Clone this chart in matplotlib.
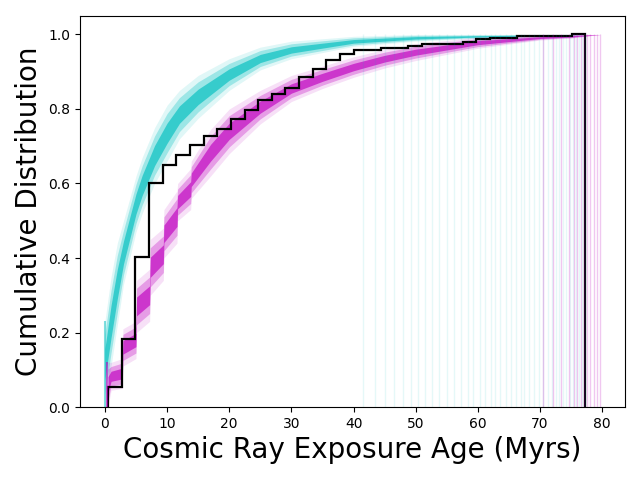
import numpy as np
import matplotlib
matplotlib.use('Agg')
import matplotlib.pyplot as plt

# Observed sample: cumulative fraction per histogram bin (35 bins)
obs_min, obs_max = 0.53, 77.3
obs_cdf = [0.054, 0.182, 0.403, 0.602, 0.649, 0.676, 0.702, 0.727, 0.745, 0.772,
           0.798, 0.823, 0.839, 0.856, 0.887, 0.906, 0.932, 0.948, 0.959, 0.959,
           0.963, 0.963, 0.969, 0.975, 0.975, 0.975, 0.981, 0.987, 0.991, 0.991,
           0.995, 0.997, 0.997, 0.997, 1.0]

# Model 1 (cyan) envelope of simulated CDFs
cyan_x = [0.0, 1, 2, 3, 4, 5, 6, 8, 10, 12, 15, 20, 25, 30, 40, 50, 60, 70, 77]
cyan_hi = [0.23, 0.35, 0.44, 0.50, 0.56, 0.62, 0.67, 0.75, 0.81, 0.85, 0.89, 0.935,
           0.966, 0.982, 0.995, 1.0, 1.0, 1.0, 1.0]
cyan_lo = [0.0, 0.11, 0.22, 0.33, 0.40, 0.47, 0.52, 0.60, 0.66, 0.72, 0.775, 0.85,
           0.905, 0.935, 0.968, 0.982, 0.99, 0.995, 1.0]

# Model 2 (magenta) envelope of simulated CDFs (saw-tooth at the bin edges)
mag_x = [0.5, 1.0, 2.8, 2.9, 5.0, 5.1, 7.2, 7.3, 9.4, 9.5, 11.6, 11.7, 13.8, 13.9,
         17, 20, 25, 30, 35, 40, 45, 50, 60, 70, 75, 79.7]
mag_hi = [0.12, 0.12, 0.13, 0.21, 0.23, 0.34, 0.37, 0.45, 0.48, 0.53, 0.58, 0.60,
          0.64, 0.66, 0.745, 0.80, 0.85, 0.89, 0.915, 0.94, 0.96, 0.975, 0.993,
          0.998, 1.0, 1.0]
mag_lo = [0.0, 0.045, 0.05, 0.11, 0.13, 0.20, 0.23, 0.30, 0.34, 0.40, 0.44, 0.50,
          0.53, 0.56, 0.62, 0.68, 0.76, 0.82, 0.855, 0.885, 0.91, 0.93, 0.963,
          0.985, 0.99, 1.0]

# maximum ages of the individual simulated draws (final drop of each CDF)
cyan_max = [41.5, 43.5, 45.0, 46.5, 48.0, 49.2, 50.3, 51.5, 52.6, 53.8, 55.0, 56.1,
            57.3, 58.4, 59.2, 60.3, 61.2, 62.1, 62.8, 63.6, 64.5, 65.3, 66.2, 67.0,
            67.4, 68.2, 69.0, 69.8, 70.5, 71.2, 71.9, 72.6, 73.1, 73.7, 74.2, 74.8,
            75.3, 75.8, 76.3, 76.8, 77.2]
mag_max = [70.5, 72.0, 73.4, 74.6, 75.4, 76.0, 76.5, 77.0, 77.6, 78.1, 78.6, 79.2, 79.7]

fig, ax = plt.subplots(figsize=(6.4, 4.8), dpi=100)

# faint drops of the simulated curves
ax.vlines(cyan_max, 0, 1, color='c', alpha=0.1, lw=1)
ax.vlines(mag_max, 0, 1, color='m', alpha=0.22, lw=1)

for xs, lo, hi, col in [(cyan_x, cyan_lo, cyan_hi, 'c'), (mag_x, mag_lo, mag_hi, 'm')]:
    xs = np.array(xs)
    lo = np.array(lo)
    hi = np.array(hi)
    w = hi - lo
    ax.fill_between(xs, lo, hi, color=col, alpha=0.12, lw=0)
    ax.fill_between(xs, lo + 0.15 * w, hi - 0.15 * w, color=col, alpha=0.3, lw=0)
    ax.fill_between(xs, lo + 0.32 * w, hi - 0.32 * w, color=col, alpha=0.65, lw=0)

# starting rises near zero
ax.vlines([0.1], 0, cyan_hi[0], color='c', alpha=0.5, lw=1.5)
ax.vlines([0.4], 0, mag_hi[0], color='m', alpha=0.6, lw=1.5)

edges = np.linspace(obs_min, obs_max, len(obs_cdf) + 1)
ax.stairs(obs_cdf, edges, baseline=0, color='k', lw=1.6)

ax.set_xlim(-4.0, 83.7)
ax.set_ylim(0, 1.05)
ax.set_xlabel('Cosmic Ray Exposure Age (Myrs)', fontsize=20)
ax.set_ylabel('Cumulative Distribution', fontsize=20)

plt.subplots_adjust(left=0.125, right=0.977, bottom=0.152, top=0.967)
plt.savefig('out.png')
